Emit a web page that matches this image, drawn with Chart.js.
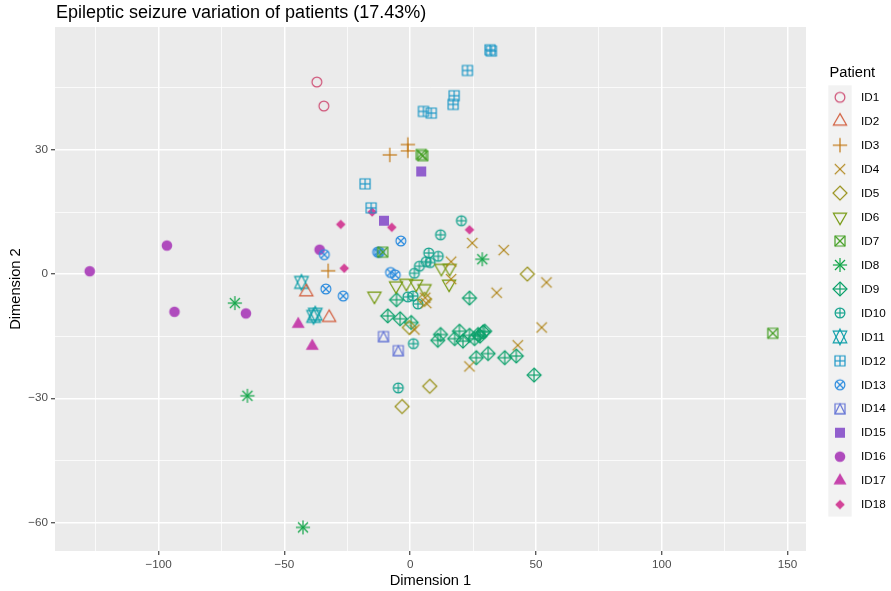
<!DOCTYPE html>
<html>
<head>
<meta charset="utf-8">
<script src="https://cdn.jsdelivr.net/npm/chart.js@4.4.1/dist/chart.umd.min.js"></script>
<style>
  body { margin: 0; background: #ffffff; }
</style>
</head>
<body>
<canvas id="my-chart" width="891" height="591"></canvas>
<script>
// values
const patients = ["ID1", "ID2", "ID3", "ID4", "ID5", "ID6", "ID7", "ID8", "ID9",
  "ID10", "ID11", "ID12", "ID13", "ID14", "ID15", "ID16", "ID17", "ID18"];

const id1X = [-37.1, -34.3];
const id1Y = [46.4, 40.6];
const id2X = [-41.3, -32.2];
const id2Y = [-4.3, -10.5];
const id3X = [-0.9, -0.9, -8.1, -32.6];
const id3Y = [31.3, 29.8, 28.8, 0.8];
const id4X = [24.7, 37.2, 16.3, 16.3, 34.4, 54.2, 52.3, 42.8, 6.4, 1.7, 23.6, 6.0];
const id4Y = [7.5, 5.8, 3.0, -1.2, -4.5, -2.0, -12.9, -17.2, -7.0, -13.4, -22.3, -5.7];
const id5X = [46.6, 7.8, -3.2, 5.7, -0.3];
const id5Y = [0.0, -27.1, -32.0, -6.1, -12.9];
const id6X = [-14.2, -5.6, -1.5, 2.4, 5.7, 12.4, 15.7, 15.5];
const id6Y = [-5.3, -2.8, -2.2, -2.4, -3.5, 1.4, 1.4, -2.4];
const id7X = [4.4, 5.0, -10.9, 144.2];
const id7Y = [28.9, 28.6, 5.3, -14.3];
const id8X = [28.7, -69.7, -64.7, -42.6];
const id8Y = [3.6, -7.0, -29.4, -61.2];
const id9X = [-5.4, 23.6, -8.9, -4.0, 0.4, 12.1, 11.0, 19.6, 17.7, 21.0, 25.6, 27.0,
  29.0, 29.6, 23.6, 27.8, 26.3, 31.0, 37.6, 42.2, 49.3];
const id9Y = [-6.2, -5.8, -10.1, -10.8, -11.7, -14.6, -16.0, -13.8, -15.6, -16.2, -15.6, -14.6,
  -14.0, -13.8, -14.8, -15.0, -20.2, -19.2, -20.2, -19.8, -24.4];
const id10X = [20.4, 12.1, 7.4, 11.2, 6.4, 8.0, 3.7, 1.7, -0.9, 1.2, 3.1, 1.3, -4.7];
const id10Y = [12.9, 9.5, 5.1, 4.3, 3.0, 2.8, 1.9, 0.2, -5.5, -5.3, -7.2, -16.8, -27.5];
const id11X = [-43.2, -37.7, -38.4];
const id11Y = [-2.0, -9.7, -10.2];
const id12X = [31.8, 32.3, 22.8, 17.5, 17.1, 5.3, 8.4, -17.9, -15.5];
const id12Y = [54.2, 53.9, 49.2, 43.1, 41.0, 39.3, 38.9, 21.8, 16.0];
const id13X = [-34.1, -33.5, -26.6, -3.7, -12.2, -12.9, -7.8, -5.9];
const id13Y = [4.7, -3.6, -5.3, 8.0, 5.3, 5.3, 0.4, -0.2];
const id14X = [-10.6, -4.7];
const id14Y = [-15.1, -18.5];
const id15X = [4.4, -10.4];
const id15Y = [24.8, 12.9];
const id16X = [-127.4, -96.7, -93.7, -65.3, -36.0];
const id16Y = [0.7, 6.9, -9.1, -9.5, 5.9];
const id17X = [-44.5, -38.9];
const id17Y = [-12.1, -17.4];
const id18X = [-15.1, -27.6, -7.3, 23.6, -26.2];
const id18Y = [15.0, 12.0, 11.3, 10.7, 1.4];

const xMajor = [-100, -50, 0, 50, 100, 150];
const xMinor = [-125, -75, -25, 25, 75, 125];
const yMajor = [-60, -30, 0, 30];
const yMinor = [-45, -15, 15, 45];

const allX = [id1X, id2X, id3X, id4X, id5X, id6X, id7X, id8X, id9X,
  id10X, id11X, id12X, id13X, id14X, id15X, id16X, id17X, id18X];
const allY = [id1Y, id2Y, id3Y, id4Y, id5Y, id6Y, id7Y, id8Y, id9Y,
  id10Y, id11Y, id12Y, id13Y, id14Y, id15Y, id16Y, id17Y, id18Y];

const colors = ["#CF5277", "#D25C3B", "#C27713", "#B08518", "#979017", "#74980E",
  "#47A027", "#12A548", "#0CA16B", "#13A28D", "#11A0AA", "#1B97C6",
  "#2B8BDE", "#6676D6", "#915FCD", "#AF4BBD", "#C644AC", "#D34498"];
const shapes = ["circle", "triUp", "plus", "cross", "diamond", "triDown", "squareCross",
  "asterisk", "diamondPlus", "circlePlus", "star", "squarePlus", "circleCross",
  "squareTri", "squareFill", "circleFill", "triFill", "diamondFill"];

const FONT = '"Liberation Sans", Arial, Helvetica, sans-serif';

// ggplot-like point shapes painted on small canvases, used as pointStyle
const makeMarker = (shape, color) => {
  const cv = document.createElement("canvas");
  cv.width = 22;
  cv.height = 22;
  const g = cv.getContext("2d");
  const c = 11;
  g.strokeStyle = color;
  g.fillStyle = color;
  g.lineWidth = 1.2;
  const line = (x1, y1, x2, y2) => {
    g.beginPath(); g.moveTo(c + x1, c + y1); g.lineTo(c + x2, c + y2); g.stroke();
  };
  const poly = (pts, fill) => {
    g.beginPath();
    pts.forEach(([x, y], i) => (i ? g.lineTo(c + x, c + y) : g.moveTo(c + x, c + y)));
    g.closePath();
    if (fill) g.fill(); else g.stroke();
  };
  const circ = (r, fill) => {
    g.beginPath(); g.arc(c, c, r, 0, Math.PI * 2);
    if (fill) g.fill(); else g.stroke();
  };
  const sq = 5.0, dm = 7.0, tr = 7.6, cr = 4.9;
  const up = [[0, -tr], [tr * 0.866, tr / 2], [-tr * 0.866, tr / 2]];
  const down = up.map(([x, y]) => [x, -y]);
  const square = [[-sq, -sq], [sq, -sq], [sq, sq], [-sq, sq]];
  const diamond = [[0, -dm], [dm, 0], [0, dm], [-dm, 0]];
  switch (shape) {
    case "circle": circ(cr); break;
    case "triUp": poly(up); break;
    case "plus": line(-7.2, 0, 7.2, 0); line(0, -7.2, 0, 7.2); break;
    case "cross": line(-5.2, -5.2, 5.2, 5.2); line(-5.2, 5.2, 5.2, -5.2); break;
    case "diamond": poly(diamond); break;
    case "triDown": poly(down); break;
    case "squareCross": poly(square); line(-sq, -sq, sq, sq); line(-sq, sq, sq, -sq); break;
    case "asterisk":
      line(-5, -5, 5, 5); line(-5, 5, 5, -5); line(-7.1, 0, 7.1, 0); line(0, -7.1, 0, 7.1); break;
    case "diamondPlus": poly(diamond); line(-dm, 0, dm, 0); line(0, -dm, 0, dm); break;
    case "circlePlus": circ(cr); line(-cr, 0, cr, 0); line(0, -cr, 0, cr); break;
    case "star": {
      const r = 7.8, yc = 0.75 * r, xc = 0.866 * r;
      poly([[0, -r], [xc, yc], [-xc, yc]]);
      poly([[0, r], [xc, -yc], [-xc, -yc]]);
      break;
    }
    case "squarePlus": poly(square); line(-sq, 0, sq, 0); line(0, -sq, 0, sq); break;
    case "circleCross": {
      const d = cr * Math.SQRT1_2;
      circ(cr); line(-d, -d, d, d); line(-d, d, d, -d); break;
    }
    case "squareTri": poly(square); poly([[0, -sq], [sq, sq], [-sq, sq]]); break;
    case "squareFill": poly([[-5, -5], [5, -5], [5, 5], [-5, 5]], true); break;
    case "circleFill": circ(5.3, true); break;
    case "triFill": poly([[0, -7.5], [6.5, 3.75], [-6.5, 3.75]], true); break;
    case "diamondFill": poly([[0, -4.8], [4.8, 0], [0, 4.8], [-4.8, 0]], true); break;
  }
  return cv;
};

const markers = shapes.map((s, i) => makeMarker(s, colors[i]));

const datasets = patients.map((name, i) => ({
  label: name,
  data: allX[i].map((x, j) => ({ x, y: allY[i][j] })),
  pointStyle: markers[i],
  borderColor: colors[i],
  backgroundColor: colors[i],
}));

const fmt = (v) => (v < 0 ? "\u2212" + Math.abs(v) : String(v));

// grey panel, plot title and the ggplot-style legend
const ggPlugin = {
  id: "ggDecor",
  beforeDraw(chart) {
    const { ctx, chartArea: a } = chart;
    ctx.save();
    ctx.fillStyle = "#EBEBEB";
    ctx.fillRect(a.left, a.top, a.right - a.left, a.bottom - a.top);
    ctx.restore();
  },
  afterDraw(chart) {
    const { ctx, chartArea: a } = chart;
    ctx.save();
    ctx.fillStyle = "#000000";
    ctx.textBaseline = "alphabetic";
    ctx.font = "18px " + FONT;
    ctx.fillText("Epileptic seizure variation of patients (17.43%)", a.left + 1, 18);

    ctx.font = "14.67px " + FONT;
    ctx.fillText("Patient", 829.5, 77);
    const keyTop = 85.3, keyH = 23.96;
    ctx.fillStyle = "#F2F2F2";
    ctx.fillRect(828.3, keyTop, 23.4, patients.length * keyH);
    ctx.font = "11.7px " + FONT;
    ctx.textBaseline = "middle";
    patients.forEach((p, i) => {
      const cy = keyTop + keyH * (i + 0.5);
      const m = markers[i];
      ctx.drawImage(m, 840 - m.width / 2, cy - m.height / 2);
      ctx.fillStyle = "#000000";
      ctx.fillText(p, 861, cy + 0.5);
    });
    ctx.restore();
  },
};

const gridOpts = (major) => ({
  color: "#FFFFFF",
  lineWidth: (c) => (major.includes(c.tick && c.tick.value) ? 1.5 : 0.75),
  tickLength: 4,
  tickWidth: 1.1,
  tickColor: (c) => (major.includes(c.tick && c.tick.value) ? "#333333" : "rgba(0,0,0,0)"),
});

const ctx = document.getElementById("my-chart").getContext("2d");
const myChart = new Chart(ctx, {
  type: "scatter",
  data: { datasets },
  options: {
    responsive: false,
    animation: false,
    events: [],
    layout: { padding: { left: 0, right: 85, top: 27, bottom: 0 } },
    plugins: { legend: { display: false }, tooltip: { enabled: false } },
    scales: {
      x: {
        type: "linear",
        min: -141.2,
        max: 157.4,
        afterBuildTicks: (s) => {
          s.ticks = [...xMajor, ...xMinor].sort((a, b) => a - b).map((v) => ({ value: v }));
        },
        afterFit: (s) => { s.height = 40; },
        ticks: {
          callback: (v) => (xMajor.includes(v) ? fmt(v) : ""),
          color: "#4D4D4D",
          font: { family: FONT, size: 11.7 },
          padding: 3,
          maxRotation: 0,
          autoSkip: false,
        },
        grid: gridOpts(xMajor),
        border: { display: false },
        title: {
          display: true,
          text: "Dimension 1",
          color: "#000000",
          font: { family: FONT, size: 14.67 },
          padding: { top: 0, bottom: 1 },
        },
      },
      y: {
        type: "linear",
        min: -66.9,
        max: 59.7,
        afterBuildTicks: (s) => {
          s.ticks = [...yMajor, ...yMinor].sort((a, b) => a - b).map((v) => ({ value: v }));
        },
        afterFit: (s) => { s.width = 55; },
        ticks: {
          callback: (v) => (yMajor.includes(v) ? fmt(v) : ""),
          color: "#4D4D4D",
          font: { family: FONT, size: 11.7 },
          padding: 3,
          autoSkip: false,
        },
        grid: gridOpts(yMajor),
        border: { display: false },
        title: {
          display: true,
          text: "Dimension 2",
          color: "#000000",
          font: { family: FONT, size: 14.67 },
          padding: { top: 7, bottom: 0 },
        },
      },
    },
  },
  plugins: [ggPlugin],
});
</script>
</body>
</html>
